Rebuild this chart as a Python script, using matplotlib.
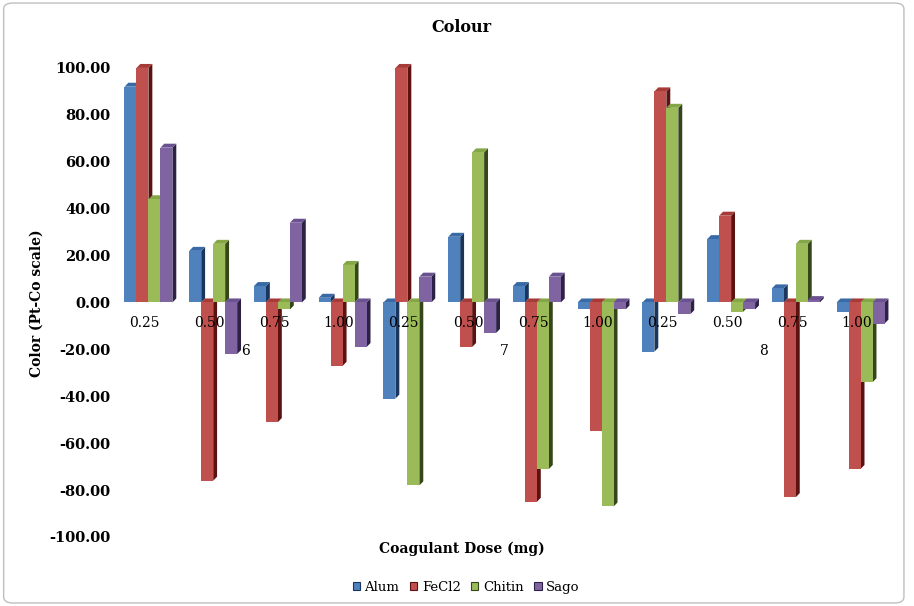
import matplotlib
matplotlib.use('Agg')
import matplotlib.pyplot as plt
from matplotlib.patches import Polygon, Rectangle, Patch, FancyBboxPatch
import numpy as np

plt.rcParams['font.family'] = ['DejaVu Serif']

doses = ['0.25', '0.50', '0.75', '1.00'] * 3
ph_groups = ['6', '7', '8']
series = ['Alum', 'FeCl2', 'Chitin', 'Sago']
alum = [92, 22, 7, 2, -41, 28, 7, -3, -21, 27, 6, -4]
fecl2 = [100, -76, -51, -27, 100, -19, -85, -55, 90, 37, -83, -71]
chitin = [44, 25, -3, 16, -78, 64, -71, -87, 83, -4, 25, -34]
sago = [66, -22, 34, -19, 11, -13, 11, -3, -5, -3, 1, -9]

front = ['#4F81BD', '#C0504D', '#9BBB59', '#8064A2']
side = ['#1B365E', '#5C1210', '#34461A', '#2E2148']
top = ['#3A6AA6', '#A63A37', '#84A646', '#6A5190']

fig = plt.figure(figsize=(9.14, 6.06), dpi=100)
ax = fig.add_axes([0.127, 0.1139, 0.85, 0.774])

w = 0.185
dx = 0.06
dy = 1.7
data = [alum, fecl2, chitin, sago]
x = np.arange(len(doses))
for s, vals in enumerate(data):
    for i, v in enumerate(vals):
        left = x[i] - 2 * w + s * w
        y0, y1 = min(0, v), max(0, v)
        z = 2 + i * 10 + s * 2
        # right side face and top face, then the front face over them
        ax.add_patch(Polygon([(left + w, y0), (left + w + dx, y0 + dy),
                              (left + w + dx, y1 + dy), (left + w, y1)],
                             closed=True, fc=side[s], ec='none', zorder=z, clip_on=False))
        ax.add_patch(Polygon([(left, y1), (left + dx, y1 + dy),
                              (left + w + dx, y1 + dy), (left + w, y1)],
                             closed=True, fc=top[s], ec='none', zorder=z, clip_on=False))
        ax.add_patch(Rectangle((left, y0), w, y1 - y0, fc=front[s], ec='none',
                               zorder=z + 1, clip_on=False))

ax.set_xlim(-0.5, len(doses) - 0.5)
ax.set_ylim(-100, 100)
ax.set_yticks(np.arange(-100, 101, 20))
ax.set_yticklabels(['%.2f' % t for t in np.arange(-100, 101, 20)],
                   fontsize=10.5, fontweight='bold')
ax.tick_params(axis='y', length=0, pad=4)
ax.set_xticks([])
for sp in ax.spines.values():
    sp.set_visible(False)

for i, d in enumerate(doses):
    ax.annotate(d, (x[i] - 0.06, 0), xytext=(0, -10), textcoords='offset points',
                ha='center', va='top', fontsize=10, zorder=200)
for g, p in enumerate(ph_groups):
    ax.annotate(p, (g * 4 + 1.5, 0), xytext=(0, -30), textcoords='offset points',
                ha='center', va='top', fontsize=10, zorder=200)

fig.text(0.505, 0.954, 'Colour', ha='center', va='center', fontsize=11.5, fontweight='bold')
fig.text(0.04, 0.5, 'Color (Pt-Co scale)', ha='center', va='center', rotation=90,
         fontsize=10, fontweight='bold')
fig.text(0.505, 0.095, 'Coagulant Dose (mg)', ha='center', va='center',
         fontsize=10, fontweight='bold')

handles = [Patch(fc=front[s], ec=side[s], lw=0.8) for s in range(4)]
fig.legend(handles, series, loc='center', bbox_to_anchor=(0.51, 0.031), ncol=4,
           frameon=False, fontsize=9.5, handlelength=0.55, handleheight=0.55,
           handletextpad=0.35, columnspacing=0.8)

fig.patches.append(FancyBboxPatch((0.004, 0.005), 0.985, 0.99, boxstyle='round,pad=0,rounding_size=0.01',
                                  transform=fig.transFigure, fc='none', ec='#BFBFBF', lw=1))

fig.savefig('out.png', dpi=100)
